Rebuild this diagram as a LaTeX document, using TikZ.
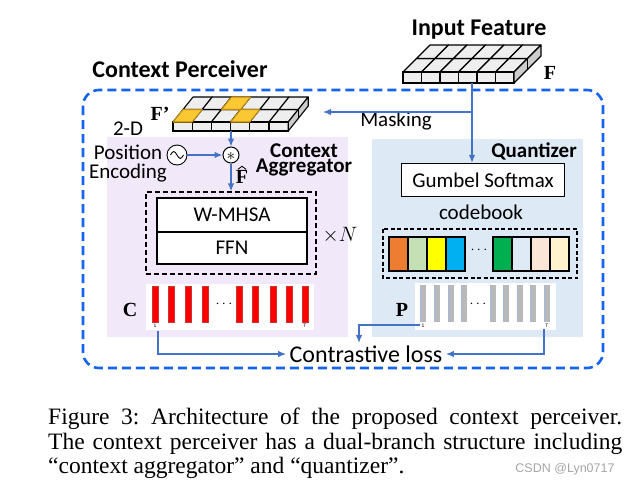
\documentclass[tikz,border=0pt]{standalone}
\usepackage{fontspec}
\setmainfont{Carlito}
\newfontfamily\tms{Liberation Serif}
\newfontfamily\lsans{Liberation Sans}
\usetikzlibrary{arrows.meta,calc}
\definecolor{pblue}{RGB}{20,100,240}
\definecolor{arrblue}{RGB}{68,114,196}
\definecolor{lav}{RGB}{241,233,250}
\definecolor{qblue}{RGB}{222,233,246}
\definecolor{cellgray}{RGB}{238,238,238}
\definecolor{sidegray}{RGB}{205,205,205}
\definecolor{yel}{RGB}{250,200,50}
\definecolor{yelb}{RGB}{190,140,20}
\definecolor{cbA}{RGB}{237,125,49}
\definecolor{cbB}{RGB}{197,224,180}
\definecolor{cbC}{RGB}{255,255,0}
\definecolor{cbD}{RGB}{0,176,240}
\definecolor{cbE}{RGB}{0,176,80}
\definecolor{cbF}{RGB}{222,235,247}
\definecolor{cbG}{RGB}{251,229,214}
\definecolor{cbH}{RGB}{255,242,204}
\newcommand\fs[1]{\fontsize{#1}{#1}\selectfont}
% slab: #1 x0, #2 ytop, #3 cell w, #4 dx/row, #5 dy/row, #6 thickness
\newcommand\drawslab[6]{%
  \foreach \r in {0,1}{\foreach \c in {0,...,5}{
    \filldraw[fill=cellgray,draw=black,line width=1.1pt,line join=round]
      ({#1+\c*#3+\r*#4},{#2+\r*#5}) -- ++(#3,0) -- ++(#4,#5) -- ++(-#3,0) -- cycle;}}
  \foreach \c in {0,...,5}{
    \filldraw[fill=cellgray,draw=black,line width=1.1pt] ({#1+\c*#3},#2) rectangle ++(#3,#6);}
  \filldraw[fill=sidegray,draw=black,line width=1.1pt,line join=round]
    ({#1+6*#3},#2) -- ++({2*#4},{2*#5}) -- ++(0,#6) -- ++({-2*#4},{-2*#5}) -- cycle;
  \draw[line width=1.1pt] ({#1+6*#3+#4},{#2+#5}) -- ++(0,#6);
}
% yellow cell: #1 x0, #2 ytop, #3 w, #4 dx, #5 dy, #6 col, #7 row
\newcommand\yelcell[7]{%
  \filldraw[fill=yel,draw=yelb,line width=1.1pt,line join=round]
    ({#1+#6*#3+#7*#4},{#2+#7*#5}) -- ++(#3,0) -- ++(#4,#5) -- ++(-#3,0) -- cycle;}
\begin{document}
\begin{tikzpicture}[x=1pt,y=-1pt,
  arr/.style={draw=arrblue,line width=1.3pt,-{Latex[length=8pt,width=6.5pt]}},
  lbl/.style={font=\fs{21}},
  blbl/.style={font=\bfseries\fs{21}},
  serif/.style={font=\tms\bfseries\fs{20}},
  box/.style={draw=black,line width=1.2pt,fill=white,inner sep=0pt},
  tiny/.style={font=\lsans\fs{5},inner sep=0pt},
  captxt/.style={anchor=base west,inner sep=0pt,font=\tms\frenchspacing\fs{23.5}}]
\useasboundingbox (0,0) rectangle (639,490);
\fill[white] (0,0) rectangle (639,490);

% panels
\fill[lav] (107,137) rectangle (348,337);
\fill[qblue] (372,139) rectangle (583,337);

% outer dashed frame
\draw[pblue,line width=2.6pt,dash pattern=on 9pt off 5pt,rounded corners=16pt] (83,90) rectangle (603,368);

% titles
\node[font=\bfseries\fs{24}] (tin) at (479,30) {Input Feature};
\node[font=\bfseries\fs{24}] (tcp) at (180,69) {Context Perceiver};

% input slab
\drawslab{403}{72}{18.5}{13.5}{-13.5}{11}
\coordinate (inb) at (472,83);
\node[serif] (lF) at (550,73) {F};

% F' slab
\drawslab{173}{122}{19.2}{10}{-12.5}{9}
\yelcell{173}{122}{19.2}{10}{-12.5}{0}{0}
\yelcell{173}{122}{19.2}{10}{-12.5}{3}{0}
\yelcell{173}{122}{19.2}{10}{-12.5}{2}{1}
\coordinate (fpb) at (231,131);
\coordinate (fpr) at (323,112);
\node[serif] (lFp) at (160,114) {F’};

% masking
\node[lbl] (mask) at (396,121) {Masking};
\coordinate (mk) at (472,112);

% position encoding
\node[lbl] (t2d) at (128,129) {2-D};
\node[lbl] (tpos) at (128,152) {Position};
\node[lbl] (tenc) at (128,173) {Encoding};
\node[circle,draw=black,line width=0.9pt,fill=white,minimum size=20pt,inner sep=0pt] (pe) at (177,155) {};
\draw[line width=0.9pt] ($(pe.center)+(-6.5,0)$) sin ++(3.25,-3.5) cos ++(3.25,3.5) sin ++(3.25,3.5) cos ++(3.25,-3.5);
\node[circle,draw=black,line width=1pt,fill=white,minimum size=16pt,inner sep=0pt] (conv) at (231,155) {};
\node[inner sep=0pt,font=\fs{17}] at ($(conv.center)+(0,1.2)$) {$\ast$};
\node[serif,inner sep=0pt] (lFh) at (242,177) {F};
\draw[line width=0.9pt] ($(lFh.north)+(-4,-1)$) -- ++(4,-3) -- ++(4,3);

% context aggregator
\node[blbl,inner sep=0pt,anchor=base] (tca1) at (304,157) {Context};
\node[blbl,inner sep=0pt,anchor=base] (tca2) at (304,172.5) {Aggregator};
\node[draw=black,line width=1.2pt,dash pattern=on 5pt off 3pt,minimum width=170pt,minimum height=82pt,inner sep=0pt] (blk) at (231,233) {};
\node[box,minimum width=150pt,minimum height=34pt,lbl] (mhsa) at (232,215) {W-MHSA};
\node[box,minimum width=150pt,minimum height=32pt,lbl] (ffn) at (232,248) {FFN};
\node[font=\fs{22}] (xn) at (340,235) {$\times N$};

% C bars
\fill[white] (146,284) rectangle (314,330);
\foreach \x in {155,171,188,205,239,255,273,289,305}
  \filldraw[fill=red,draw=red!60!gray,line width=0.3pt] (\x-2.8,286) rectangle (\x+2.8,322);
\node[font=\bfseries\fs{14}] (cdots) at (224,304) {$\cdots$};
\node[tiny] (c1) at (155,326) {1};
\node[tiny] (cT) at (305,326) {T};
\node[serif] (lC) at (130,310) {C};

% quantizer
\node[blbl] (tq) at (534,151) {Quantizer};
\node[box,minimum width=163pt,minimum height=33pt,lbl] (gum) at (483,180) {Gumbel Softmax};
\node[lbl] (cbk) at (481,212) {codebook};
\draw[line width=1.2pt,dash pattern=on 4pt off 2.5pt] (383,229) rectangle (577,278);
\foreach \c [count=\i from 0] in {cbA,cbB,cbC,cbD}
  \filldraw[fill=\c,draw=black,line width=1.2pt] (389+\i*19,237) rectangle ++(19,34);
\foreach \c [count=\i from 0] in {cbE,cbF,cbG,cbH}
  \filldraw[fill=\c,draw=black,line width=1.2pt] (493+\i*19,237) rectangle ++(19,34);
\node[font=\fs{15}] (qdots) at (479,250) {$\cdots$};

% P bars
\fill[white] (415,283) rectangle (556,330);
\foreach \x in {423,437,451,464,493,506,520,533,547}{
  \fill[gray!55] (\x-2.5,285) rectangle (\x+2.5,322);
  \draw[arrblue!50,line width=0.5pt] (\x-2.5,285) -- (\x-2.5,322);}
\node[font=\fs{15}] (pdots) at (478,304) {$\cdots$};
\node[tiny] (p1) at (423,326) {1};
\node[tiny] (pT) at (547,326) {T};
\node[serif] (lP) at (402,310) {P};

% contrastive loss
\node[font=\fs{24}] (cl) at (366,354) {Contrastive loss};

% connectors
\draw[arr] (inb) -- (gum.north -| inb);
\draw[arr] (mk) -- (fpr);
\draw[arr] (fpb) -- (conv.north);
\draw[arr] (pe.east) -- (conv.west);
\draw[arr] (conv.south) -- (blk.north -| conv);
\draw[arr] (158,331) |- (cl.west);
\draw[arr] (420,325) -| (359,343);
\draw[arr] (544,329) |- (cl.east);

% caption
\node[captxt] (cap1) at (48,424) {\makebox[574pt][s]{Figure 3: Architecture of the proposed context perceiver.}};
\node[captxt] (cap2) at (48,449) {\makebox[574pt][s]{The context perceiver has a dual-branch structure including}};
\node[captxt] (cap3) at (48,473) {“context aggregator” and “quantizer”.};
\node[font=\lsans\fs{12.5},text=gray!70] (wm) at (565,469) {CSDN @Lyn0717};
\end{tikzpicture}
\end{document}
